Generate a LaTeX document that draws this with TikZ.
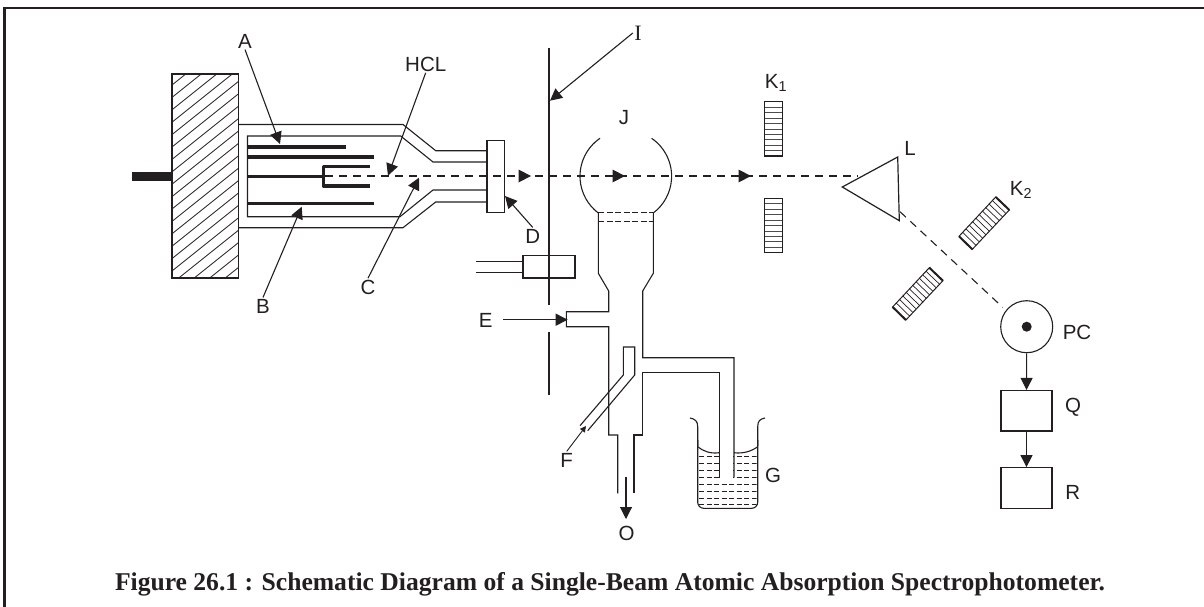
\documentclass[tikz,border=0pt]{standalone}
\usepackage{fontspec}
\usetikzlibrary{arrows.meta,calc}
\setmainfont{Liberation Sans}
\newfontfamily\serifcap{Liberation Serif}
\definecolor{ink}{HTML}{231F20}
\tikzset{
  lab/.style={inner sep=1pt,text=ink,font=\fontsize{20.5}{24}\selectfont},
  ptr/.style={-{Triangle[length=12,width=12]},ink,line width=1.1},
  beam/.style={ink,line width=1.1,dash pattern=on 8 off 6},
  elec/.style={ink,line width=3.4},
  boxnode/.style={draw=ink,line width=1.3,minimum width=51,minimum height=40.5,inner sep=0}
}
\begin{document}
\begin{tikzpicture}[x=1pt,y=-1pt,draw=ink,line width=1.1]
\useasboundingbox (0,0) rectangle (1204,607);
\draw[line width=2.4] (4.5,607) -- (4.5,8.3) -- (1204,8.3);

% lamp holder
\draw[line width=9.2] (132,176.4) -- (172,176.4);
\begin{scope}
\clip (172,74) rectangle (238.7,278);
\foreach \y in {85,97.4,...,345} \draw[line width=0.8] (172,\y) -- (239,\y-53.6);
\end{scope}
\draw[line width=1.3] (172,74) rectangle (238.7,278);

% lamp tube
\draw (238.7,124.5) -- (403,124.5) -- (435.7,150.7) -- (487,150.7);
\draw (238.7,227.7) -- (403,227.7) -- (435.7,202) -- (487,202);
\draw (487,162) -- (433,162) -- (400.7,136) -- (247.5,136) -- (247.5,216.7) -- (400,216.7) -- (433,190) -- (487,190);
\draw[line width=1.3] (487,140.7) rectangle (504.7,212.3);

% electrodes
\draw[elec] (248,147) -- (346,147);
\draw[elec] (248,157) -- (373.7,157);
\draw[elec] (248,203.3) -- (373.7,203.3);
\draw[elec] (248,176.3) -- (323.5,176.3);
\draw[elec,line join=round] (370,166.7) -- (323.5,166.7) -- (323.5,186) -- (370,186);

% beam
\coordinate (beamA) at (325,176);
\coordinate (beamB) at (858,176);
\coordinate (beamC) at (900,211.7);
\coordinate (beamD) at (1002.7,307.3);
\draw[beam] (beamA) -- (beamB);
\draw[beam] (beamC) -- (beamD);
\foreach \x in {531,625,751} \fill[ink] (\x,176) -- ++(-12.5,-6.5) -- ++(0,13) -- cycle;

% slit plate
\draw (549,47.7) -- (549,305);
\draw (549,332.3) -- (549,395);

% burner head
\draw (523,261.7) -- (476,261.7);
\draw (523,272.7) -- (476,272.7);
\draw[line width=1.2] (523,255.7) rectangle (575,278);

% flame bulb
\draw (600,138.3) arc[start angle=235.6,end angle=127.1,radius=46];
\draw (651.6,138.3) arc[start angle=-55.6,end angle=52.9,radius=46];
\draw[dash pattern=on 6 off 2.5] (598.3,212.3) -- (653.3,212.3);
\draw[dash pattern=on 6 off 2.5] (598.3,221.3) -- (653.3,221.3);

% burner body
\draw (598.3,212.3) -- (598.3,273.3) -- (608.7,291) -- (608.7,311.7) -- (566.3,311.7) -- (566.3,326.7) -- (608.7,326.7) -- (608.7,435) -- (617.7,435) -- (617.7,493.3);
\draw (653.3,212.3) -- (653.3,273.3) -- (642.7,291) -- (642.7,357.7) -- (734,357.7) -- (734,477.7);
\draw (719.3,477.7) -- (719.3,372.7) -- (642.7,372.7) -- (642.7,435) -- (634,435) -- (634,493.3);
\draw (580,425.7) -- (623.3,375) -- (623.3,347) -- (634.7,347) -- (634.7,375) -- (587.7,430.7);

% beaker
\draw (690,418) .. controls (695,419) and (697.7,421) .. (697.7,426.7) -- (697.7,446);
\draw[rounded corners=6] (697.7,440) -- (697.7,508.3) -- (757.7,508.3) -- (757.7,440);
\draw (757.7,446) -- (757.7,426.7) .. controls (757.7,421) and (760,419) .. (765,418);
\draw (697.7,446.7) .. controls (703,451) and (710,454) .. (719.3,452.7);
\draw (734,452.7) .. controls (743,454) and (752,451) .. (757.7,446.7);
\begin{scope}
\clip (699,453) rectangle (756.5,507);
\foreach \i in {0,...,7} {
  \draw[line width=0.7,dash pattern=on 5 off 2.5] (699,456.5+\i*6.9) -- (757,456.5+\i*6.9);
}
\fill[white] (719.9,450) rectangle (733.4,477.7);
\end{scope}

% slits
\foreach \y in {101.7,198.3} {
  \foreach \i in {1,...,9} \draw[line width=0.7,black!70] (764.3,\y+\i*5.44) -- (782.7,\y+\i*5.44);
  \draw[line width=1.3] (764.3,\y) rectangle (782.7,\y+54.4);
}
\foreach \dx/\dy in {0/0,-66.4/70.7} {
  \begin{scope}[shift={(\dx,\dy)}]
  \coordinate (slitA) at (995.7,197);
  \coordinate (slitB) at (1009.3,210);
  \coordinate (slitC) at (972.3,249.3);
  \coordinate (slitD) at (959,236.3);
  \foreach \t in {0.09,0.18,...,0.95} \draw[line width=0.7] ($(slitA)!\t!(slitD)$) -- ($(slitB)!\t!(slitC)$);
  \draw[line width=1] (slitA) -- (slitB) -- (slitC) -- (slitD) -- cycle;
  \draw[line width=2] (slitA) -- (slitB);
  \draw[line width=2] (slitC) -- (slitD);
  \end{scope}
}

% prism
\draw[line width=1.2] (842.3,187) -- (897.7,157) -- (899.3,220.7) -- cycle;

% detector and readout
\node[draw=ink,circle,line width=1.1,minimum size=52,inner sep=0] (pc) at (1026.7,326.7) {};
\fill[ink] (pc) circle (5);
\node[boxnode] (boxq) at (1026.5,410.8) {};
\node[boxnode] (boxr) at (1026.5,488) {};
\draw[ptr] (pc) -- (boxq);
\draw[ptr] (boxq) -- (boxr);

% labels
\node[lab] (lblA) at (245,41) {A};
\node[lab] (lblB) at (263,306) {B};
\node[lab] (lblC) at (368,287) {C};
\node[lab] (lblD) at (532.7,236) {D};
\node[lab] (lblE) at (485.7,320.7) {E};
\node[lab] (lblF) at (566.7,460) {F};
\node[lab] (lblG) at (773,475) {G};
\node[lab] (lblHCL) at (425.7,64) {HCL};
\node[lab,font=\serifcap\fontsize{22}{24}\selectfont] (lblI) at (638,33) {I};
\node[lab] (lblJ) at (624,118) {J};
\node[lab] (lblKa) at (776,83) {K\textsubscript{1}};
\node[lab] (lblKb) at (1021,190) {K\textsubscript{2}};
\node[lab] (lblL) at (910,148) {L};
\node[lab] (lblO) at (626.7,533) {O};
\node[lab] (lblPC) at (1077,332) {PC};
\node[lab] (lblQ) at (1073,407.7) {Q};
\node[lab] (lblR) at (1072.7,492.7) {R};

% pointers
\coordinate (tipA) at (280,144);
\coordinate (tipB) at (301.7,206.7);
\coordinate (tipC) at (419,177.7);
\coordinate (tipD) at (505,196);
\coordinate (tipE) at (567.7,319.7);
\coordinate (tipF) at (586,426);
\coordinate (tipHCL) at (388,175.7);
\coordinate (tipI) at (550,100.7);
\coordinate (tipO) at (626,519);
\coordinate (tailE) at (503.3,319.7);
\coordinate (tailO) at (626,476.7);
\draw[ptr] (lblA.south) -- (tipA);
\draw[ptr] (lblB.north) -- (tipB);
\draw[ptr] (lblC.north) -- (tipC);
\draw[ptr] (lblD.north) -- (tipD);
\draw[ptr] (tailE) -- (tipE);
\draw[-{Triangle[length=6,width=6]},line width=0.9] (lblF.north) -- (tipF);
\draw[ptr] (lblHCL.south) -- (tipHCL);
\draw[ptr] (lblI.west) -- (tipI);
\draw[ptr] (tailO) -- (tipO);

% caption
\node[inner sep=0,text=ink,font=\serifcap\bfseries\fontsize{25.6}{28}\selectfont] (figcap) at (610,584) {Figure 26.1 : Schematic Diagram of a Single-Beam Atomic Absorption Spectrophotometer.};
\end{tikzpicture}
\end{document}
